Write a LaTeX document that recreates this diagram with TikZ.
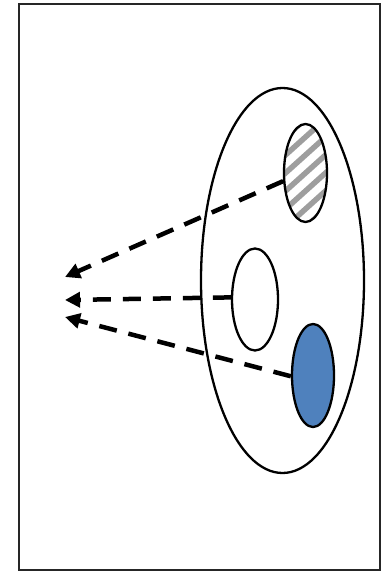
\documentclass[tikz,border=0pt]{standalone}
\usetikzlibrary{shapes.geometric,arrows.meta}
\begin{document}
\begin{tikzpicture}[x=1pt,y=-1pt,
 frame/.style={draw=black!85,line width=2.8pt},
 oval/.style={ellipse,draw=black,line width=2.3pt,inner sep=0pt},
 flow/.style={line width=4.5pt,dash pattern=on 18pt off 12pt,-{Triangle[length=15pt,width=15pt]}},
 stripe/.style={draw=black!38,line width=5.5pt}]
\useasboundingbox (0,0) rectangle (385,572);
\draw[frame] (19,4) rectangle (380,570);
\node[oval,minimum width=163pt,minimum height=385pt] (big) at (282.5,280.5) {};
\node[oval,fill=white,minimum width=43pt,minimum height=98pt,
  path picture={\foreach \i in {-7,...,7}{\draw[stripe] ([yshift=\i*18pt]path picture bounding box.center) ++(-70,63) -- ++(140,-126);}}] (hatch) at (305.5,173) {};
\node[oval,fill=white,minimum width=46pt,minimum height=102pt] (plain) at (255,299.5) {};
\node[oval,fill={rgb,255:red,79;green,129;blue,189},minimum width=42pt,minimum height=103pt] (blue) at (313,375.5) {};
\coordinate (t1) at (65,277);
\coordinate (t2) at (65,300);
\coordinate (t3) at (65,317);
\draw[flow] (hatch.200) -- (t1);
\draw[flow] (plain.175) -- (t2);
\draw[flow] (blue.182) -- (t3);
\end{tikzpicture}
\end{document}
